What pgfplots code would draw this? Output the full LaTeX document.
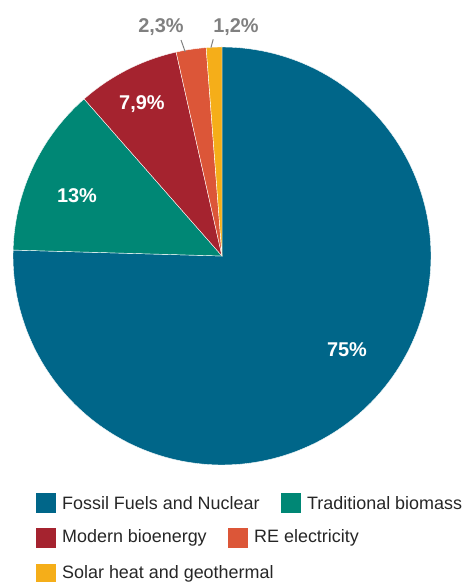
\documentclass[border=0pt]{standalone}
\usepackage{pgfplots}
\pgfplotsset{compat=1.18}
\usepackage{pgfplotstable}
\usepackage{fontspec}
\setmainfont{Liberation Sans}

\definecolor{cFossil}{RGB}{0,102,137}
\definecolor{cTrad}{RGB}{0,135,117}
\definecolor{cModern}{RGB}{165,35,47}
\definecolor{cRE}{RGB}{220,86,56}
\definecolor{cSolar}{RGB}{245,174,25}
\definecolor{cGrey}{RGB}{128,128,128}

% Shares of final energy consumption (%)
\pgfplotstableread{
value
75
13
7.9
2.3
1.2
}\sharetable

\begin{document}
\begin{tikzpicture}
\useasboundingbox (0,0) rectangle (466bp,582bp);
\begin{axis}[
  x=209bp, y=209bp,
  xmin=-1.0622, xmax=1.1675,
  ymin=-1.5598, ymax=1.2249,
  hide axis, clip=false,
  at={(0,0)}, anchor=south west,
  every axis plot/.append style={draw=white, line width=0.4bp},
]
% total and cumulative angles of the slices
\pgfplotstablegetelem{0}{value}\of\sharetable \let\va\pgfplotsretval
\pgfplotstablegetelem{1}{value}\of\sharetable \let\vb\pgfplotsretval
\pgfplotstablegetelem{2}{value}\of\sharetable \let\vc\pgfplotsretval
\pgfplotstablegetelem{3}{value}\of\sharetable \let\vd\pgfplotsretval
\pgfplotstablegetelem{4}{value}\of\sharetable \let\ve\pgfplotsretval
\pgfmathsetmacro{\total}{\va+\vb+\vc+\vd+\ve}
\pgfmathsetmacro{\aA}{90}
\pgfmathsetmacro{\aB}{90-(\va)/\total*360}
\pgfmathsetmacro{\aC}{90-(\va+\vb)/\total*360}
\pgfmathsetmacro{\aD}{90-(\va+\vb+\vc)/\total*360}
\pgfmathsetmacro{\aE}{90-(\va+\vb+\vc+\vd)/\total*360}
\pgfmathsetmacro{\aF}{90-360}

\addplot[fill=cFossil, data cs=polar, domain=\aB:\aA, samples=181] (x,1) -- (0,0) -- cycle;
\addplot[fill=cTrad,   data cs=polar, domain=\aC:\aB, samples=40] (x,1) -- (0,0) -- cycle;
\addplot[fill=cModern, data cs=polar, domain=\aD:\aC, samples=30] (x,1) -- (0,0) -- cycle;
\addplot[fill=cRE,     data cs=polar, domain=\aE:\aD, samples=10] (x,1) -- (0,0) -- cycle;
\addplot[fill=cSolar,  data cs=polar, domain=\aF:\aE, samples=10] (x,1) -- (0,0) -- cycle;

% value labels
\node[text=white, font=\bfseries\fontsize{20}{24}\selectfont] at (axis cs:0.598,-0.450) {75\%};
\node[text=white, font=\bfseries\fontsize{20}{24}\selectfont] at (axis cs:-0.694,0.287) {13\%};
\node[text=white, font=\bfseries\fontsize{20}{24}\selectfont] at (axis cs:-0.383,0.727) {7,9\%};
\node[text=cGrey, font=\bfseries\fontsize{20}{24}\selectfont] at (axis cs:-0.292,1.096) {2,3\%};
\node[text=cGrey, font=\bfseries\fontsize{20}{24}\selectfont] at (axis cs:0.067,1.096) {1,2\%};
\draw[cGrey, line width=1bp] (axis cs:-0.196,1.033) -- (axis cs:-0.176,0.977);
\draw[cGrey, line width=1bp] (axis cs:-0.042,1.037) -- (axis cs:-0.053,0.997);
\end{axis}

% legend
\begin{scope}[every node/.style={inner sep=0pt}]
\tikzset{sq/.style={minimum size=20bp}, lt/.style={anchor=west, font=\fontsize{18}{21}\selectfont, text=black!85}}
\node[sq, fill=cFossil] at (46bp,79bp) {};
\node[lt] at (62bp,79bp) {Fossil Fuels and Nuclear};
\node[sq, fill=cTrad] at (291bp,79bp) {};
\node[lt] at (307bp,79bp) {Traditional biomass};
\node[sq, fill=cModern] at (46bp,44bp) {};
\node[lt] at (62bp,44bp) {Modern bioenergy};
\node[sq, fill=cRE] at (238bp,44bp) {};
\node[lt] at (254bp,44bp) {RE electricity};
\node[sq, fill=cSolar] at (46bp,8bp) {};
\node[lt] at (62bp,8bp) {Solar heat and geothermal};
\end{scope}
\end{tikzpicture}
\end{document}
